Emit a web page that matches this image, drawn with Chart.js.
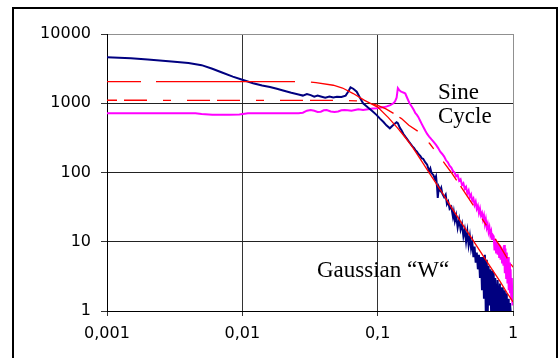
<!DOCTYPE html>
<html>
<head>
<meta charset="utf-8">
<script src="https://cdn.jsdelivr.net/npm/chart.js@4/dist/chart.umd.min.js"></script>
<style>
  html, body { margin: 0; padding: 0; background: #fff; }
  #wrap { width: 560px; height: 358px; }
</style>
</head>
<body>
<div id="wrap"><canvas id="psd" width="560" height="358"></canvas></div>
<script>
(function () {
  // tick positions / labels
  const xTickValues = [0.001, 0.01, 0.1, 1];
  const xTickLabels = ['0,001', '0,01', '0,1', '1'];
  const yTickValues = [1, 10, 100, 1000, 10000];
  const yTickLabels = ['1', '10', '100', '1000', '10000'];

  // Gaussian "W" measured (navy)
  const gaussX = [0.001, 0.0015, 0.002, 0.003, 0.004, 0.005, 0.006, 0.007, 0.0085, 0.01,
    0.012, 0.014, 0.016, 0.018, 0.02, 0.023, 0.026, 0.028, 0.03, 0.032,
    0.034, 0.036, 0.038, 0.041, 0.044, 0.047, 0.05, 0.054, 0.058, 0.061,
    0.063, 0.066, 0.07, 0.074, 0.078, 0.084, 0.092, 0.098, 0.104, 0.11,
    0.116, 0.123, 0.128, 0.133, 0.138, 0.141, 0.146, 0.15, 0.155, 0.16,
    0.166, 0.17, 0.174, 0.18, 0.186, 0.19, 0.195, 0.2, 0.207, 0.212,
    0.217, 0.225, 0.232, 0.24, 0.245, 0.25, 0.258, 0.265, 0.27, 0.275,
    0.278, 0.283, 0.29, 0.295, 0.3, 0.31, 0.318, 0.325, 0.332, 0.34,
    0.35, 0.36, 0.365, 0.372, 0.38, 0.39, 0.4, 0.41, 0.42, 0.43,
    0.44, 0.45, 0.46, 0.47, 0.48, 0.49, 0.5, 0.51, 0.52, 0.53,
    0.54, 0.55, 0.56, 0.57, 0.58, 0.59, 0.6, 0.61, 0.62, 0.63,
    0.64, 0.65, 0.66, 0.67, 0.68, 0.69, 0.7, 0.71, 0.72, 0.73,
    0.74, 0.75, 0.77, 0.78, 0.8, 0.81, 0.83, 0.84, 0.86, 0.87,
    0.89, 0.9, 0.92, 0.93, 0.95, 0.97];
  const gaussY = [4600, 4450, 4300, 4000, 3800, 3550, 3150, 2800, 2420, 2180,
    1950, 1800, 1720, 1620, 1530, 1420, 1340, 1290, 1360, 1310,
    1240, 1290, 1250, 1200, 1250, 1210, 1240, 1230, 1290, 1500,
    1700, 1620, 1470, 1200, 1000, 880, 760, 680, 600, 540,
    480, 435, 470, 500, 530, 515, 440, 408, 360, 330,
    300, 280, 264, 240, 225, 210, 200, 185, 172, 160,
    158, 140, 130, 105, 115, 98, 92, 80, 88, 60,
    43, 62, 55, 60, 50, 44, 48, 35, 38, 30,
    32, 23, 27, 20, 24, 16, 21, 15, 18, 12,
    15, 10, 14, 9, 12, 8, 10, 6, 8.5, 5,
    7, 4, 6.5, 3, 6, 2, 6, 1.5, 6.5, 0.8,
    5.5, 0.8, 4.5, 1.2, 4, 0.8, 3.8, 0.8, 3.5, 1,
    3, 0.8, 2.8, 0.8, 2.5, 0.8, 2.2, 0.8, 2, 0.8,
    1.8, 0.8, 1.5, 0.8, 1.3, 0.8];

  // Sine Cycle measured (magenta)
  const sineX = [0.001, 0.002, 0.003, 0.004, 0.0045, 0.005, 0.006, 0.008, 0.0095, 0.011,
    0.014, 0.02, 0.026, 0.028, 0.03, 0.032, 0.034, 0.036, 0.038, 0.04,
    0.042, 0.045, 0.048, 0.051, 0.054, 0.057, 0.06, 0.064, 0.068, 0.072,
    0.078, 0.085, 0.092, 0.099, 0.106, 0.112, 0.117, 0.124, 0.13, 0.134,
    0.138, 0.141, 0.144, 0.148, 0.152, 0.156, 0.16, 0.165, 0.172, 0.179,
    0.185, 0.19, 0.195, 0.2, 0.206, 0.212, 0.218, 0.225, 0.232, 0.24,
    0.25, 0.26, 0.27, 0.28, 0.29, 0.3, 0.31, 0.32, 0.33, 0.34,
    0.35, 0.36, 0.37, 0.38, 0.39, 0.4, 0.41, 0.42, 0.43, 0.44,
    0.45, 0.46, 0.47, 0.48, 0.49, 0.5, 0.51, 0.52, 0.53, 0.54,
    0.55, 0.56, 0.57, 0.58, 0.59, 0.6, 0.61, 0.62, 0.63, 0.64,
    0.65, 0.66, 0.67, 0.68, 0.69, 0.7, 0.71, 0.72, 0.73, 0.74,
    0.75, 0.76, 0.77, 0.78, 0.79, 0.8, 0.81, 0.82, 0.83, 0.84,
    0.85, 0.86, 0.87, 0.88, 0.89, 0.9, 0.91, 0.92, 0.93, 0.94,
    0.95, 0.96, 0.97, 0.98, 0.99, 1];
  const sineY = [720, 720, 720, 720, 715, 700, 685, 685, 690, 715,
    720, 720, 720, 730, 780, 800, 780, 750, 755, 790,
    800, 760, 745, 760, 790, 800, 795, 780, 800, 820,
    800, 820, 840, 850, 870, 880, 900, 940, 990, 1050,
    1200, 1650, 1560, 1480, 1450, 1420, 1380, 1200, 1000, 890,
    800, 720, 680, 630, 560, 500, 450, 400, 360, 330,
    300, 275, 250, 225, 200, 185, 170, 150, 140, 125,
    118, 105, 100, 88, 92, 76, 80, 66, 70, 58,
    62, 50, 55, 44, 48, 39, 42, 34, 38, 30,
    33, 26, 30, 24, 26, 21, 24, 18, 21, 16,
    18, 14, 16, 12.5, 14, 11, 12.5, 12, 7.5, 11,
    7, 10, 6.5, 9.5, 6, 9, 5.5, 8.5, 5, 8,
    4.5, 9, 3.5, 8, 3, 7, 2.5, 6, 2, 5,
    1.8, 4, 1.5, 3, 1.2, 1.5];

  // fitted curves (red)
  const gaussFitX = [0.001, 0.03, 0.035, 0.047, 0.055, 0.066, 0.08, 0.1, 0.12, 0.14,
    0.16, 0.18, 0.2, 0.25, 0.3, 0.324, 0.4, 0.5, 0.6, 0.7, 0.8, 0.9, 1];
  const gaussFitY = [2050, 2050, 1980, 1820, 1660, 1380, 1100, 880, 620, 440,
    320, 237, 172, 88, 51, 40, 21, 10.9, 6.3, 4, 2.7, 1.85, 1.35];
  const sineFitX = [0.001, 0.05, 0.07, 0.085, 0.1, 0.115, 0.13, 0.15, 0.17, 0.2,
    0.243, 0.3, 0.35, 0.4, 0.48, 0.6, 0.7, 0.8, 0.92, 1];
  const sineFitY = [1105, 1100, 1080, 1020, 930, 830, 720, 600, 480, 390,
    260, 150, 100, 68, 40, 20.5, 12.9, 8.7, 5.5, 4.3];

  function toPoints(xs, ys) {
    return xs.map((x, i) => ({ x: x, y: ys[i] }));
  }

  // outer frame + free text labels
  const frameAndText = {
    id: 'frameAndText',
    afterDraw(chart) {
      const ctx = chart.ctx;
      ctx.save();
      ctx.strokeStyle = '#000';
      ctx.lineWidth = 2;
      ctx.strokeRect(13, 8, 544, 362);
      ctx.fillStyle = '#000';
      ctx.font = '23px "Liberation Serif", "Times New Roman", serif';
      ctx.textBaseline = 'alphabetic';
      ctx.textAlign = 'left';
      ctx.fillText('Sine', 438, 99);
      ctx.fillText('Cycle', 438, 123);
      ctx.fillText('Gaussian \u201CW\u201C', 317, 277);
      ctx.restore();
    }
  };

  const tickFont = { family: '"DejaVu Sans", sans-serif', size: 16 };

  new Chart(document.getElementById('psd'), {
    type: 'line',
    data: {
      datasets: [
        {
          data: toPoints(gaussFitX, gaussFitY),
          borderColor: '#ff0000',
          borderWidth: 1.3,
          borderDash: [34, 15, 139, 16, 3000, 1]
        },
        {
          data: toPoints(sineFitX, sineFitY),
          borderColor: '#ff0000',
          borderWidth: 1.3,
          borderDash: [23, 7, 23, 16, 8, 16],
          borderDashOffset: 13
        },
        {
          data: toPoints(gaussX, gaussY),
          borderColor: '#000080',
          borderWidth: 2
        },
        {
          data: toPoints(sineX, sineY),
          borderColor: '#ff00ff',
          borderWidth: 2
        }
      ]
    },
    options: {
      responsive: false,
      animation: false,
      parsing: true,
      elements: {
        point: { radius: 0, hoverRadius: 0 },
        line: { tension: 0, fill: false }
      },
      layout: { padding: { top: 34, right: 47, left: 0, bottom: 0 } },
      plugins: {
        legend: { display: false },
        tooltip: { enabled: false }
      },
      scales: {
        x: {
          type: 'logarithmic',
          min: 0.001,
          max: 1,
          afterBuildTicks: scale => { scale.ticks = xTickValues.map(v => ({ value: v })); },
          afterFit: scale => { scale.height = 47; },
          ticks: {
            autoSkip: false,
            maxRotation: 0,
            color: '#000',
            font: tickFont,
            padding: 8,
            callback: value => xTickLabels[xTickValues.indexOf(value)]
          },
          grid: {
            color: c => (c.tick && c.tick.value === 1 ? '#909090' : '#333'),
            tickColor: '#333',
            tickLength: 5
          },
          border: { color: '#000', width: 1 }
        },
        y: {
          type: 'logarithmic',
          min: 1,
          max: 10000,
          afterBuildTicks: scale => { scale.ticks = yTickValues.map(v => ({ value: v })); },
          afterFit: scale => { scale.width = 107; },
          ticks: {
            autoSkip: false,
            color: '#000',
            font: tickFont,
            padding: 10,
            callback: value => yTickLabels[yTickValues.indexOf(value)]
          },
          grid: {
            color: c => (c.tick && c.tick.value === 10000 ? '#909090' : '#222'),
            tickColor: '#333',
            tickLength: 6
          },
          border: { color: '#000', width: 1 }
        }
      }
    },
    plugins: [frameAndText]
  });
})();
</script>
</body>
</html>
